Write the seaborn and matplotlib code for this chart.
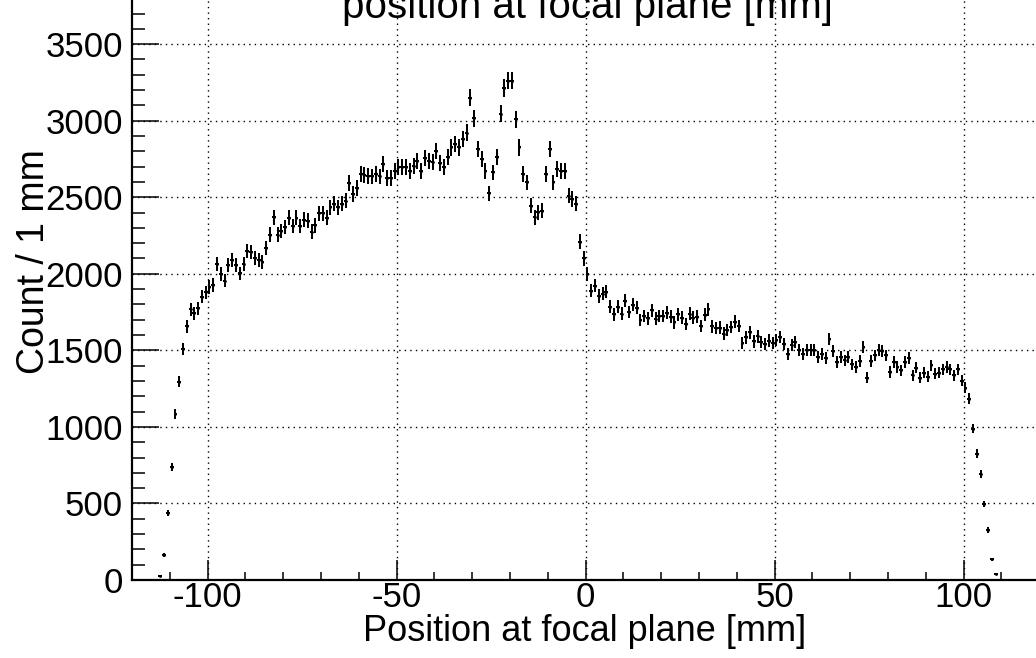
import numpy as np
import pandas as pd
import matplotlib
matplotlib.use("Agg")
import matplotlib.pyplot as plt
from matplotlib.ticker import MultipleLocator
import seaborn as sns

# ---- data (1 mm bins, first bin starts at -113 mm) ----
first_bin_low = -113
bin_width = 1
counts = [
    25, 162, 437, 736, 1082, 1294, 1509, 1656, 1768, 1742,
    1775, 1851, 1879, 1913, 1926, 2063, 1998, 1955, 2060, 2089,
    2060, 2002, 2063, 2149, 2143, 2104, 2089, 2078, 2168, 2255,
    2370, 2255, 2280, 2305, 2367, 2312, 2366, 2312, 2353, 2348,
    2275, 2316, 2394, 2394, 2366, 2435, 2457, 2435, 2457, 2478,
    2593, 2522, 2561, 2652, 2647, 2641, 2636, 2652, 2636, 2716,
    2626, 2626, 2674, 2695, 2695, 2695, 2674, 2702, 2734, 2669,
    2755, 2736, 2730, 2804, 2721, 2695, 2760, 2825, 2846, 2825,
    2879, 2922, 3149, 3015, 2814, 2749, 2673, 2526, 2662, 2760,
    3045, 3214, 3262, 3262, 3009, 2825, 2651, 2597, 2446, 2370,
    2403, 2413, 2651, 2814, 2597, 2684, 2669, 2673, 2511, 2489,
    2457, 2210, 2100, 2000, 1890, 1922, 1855, 1870, 1883, 1784,
    1736, 1784, 1740, 1823, 1751, 1797, 1779, 1697, 1725, 1710,
    1762, 1708, 1725, 1725, 1747, 1719, 1682, 1736, 1714, 1671,
    1740, 1714, 1719, 1660, 1732, 1768, 1656, 1645, 1649, 1610,
    1632, 1654, 1688, 1660, 1545, 1584, 1617, 1558, 1591, 1553,
    1539, 1564, 1548, 1565, 1587, 1543, 1478, 1533, 1554, 1504,
    1478, 1500, 1504, 1504, 1457, 1474, 1452, 1576, 1496, 1424,
    1457, 1435, 1457, 1409, 1391, 1430, 1522, 1322, 1430, 1467,
    1500, 1496, 1467, 1359, 1424, 1391, 1370, 1424, 1452, 1337,
    1387, 1322, 1355, 1328, 1402, 1348, 1355, 1376, 1391, 1376,
    1337, 1376, 1300, 1257, 1185, 989, 826, 691, 496, 326,
    135, 40,
]
x_ticks = [-100, -50, 0, 50, 100]
y_ticks = [0, 500, 1000, 1500, 2000, 2500, 3000, 3500]
title_text = "position at focal plane [mm]"
x_label = "Position at focal plane [mm]"
y_label = "Count / 1 mm"

centers = first_bin_low + bin_width * (np.arange(len(counts)) + 0.5)
df = pd.DataFrame({"x": centers, "count": counts})
df["err"] = np.sqrt(df["count"])

# ---- style ----
sns.set_theme(style="white")
plt.rcParams["font.family"] = ["Liberation Sans", "DejaVu Sans"]

W, H = 1036, 658
fig = plt.figure(figsize=(W / 100, H / 100), dpi=100)
fig.patch.set_facecolor("white")

x0_px, y0_px = 132, 580
xlim = (-120, 120)
ylim = (0, 3800)
px_per_x = 3.78
px_per_y = 0.1531
ax_w = (xlim[1] - xlim[0]) * px_per_x
ax_h = (ylim[1] - ylim[0]) * px_per_y
ax = fig.add_axes([x0_px / W, (H - y0_px) / H, ax_w / W, ax_h / H])
ax.set_facecolor("white")

ax.errorbar(df["x"], df["count"], yerr=df["err"], xerr=0.5 * bin_width,
            fmt="none", ecolor="black", elinewidth=1.45, capsize=0, zorder=3)
sns.scatterplot(data=df, x="x", y="count", ax=ax, s=4, color="black",
                marker="o", edgecolor="black", linewidth=0, zorder=4, legend=False)

ax.set_xlim(*xlim)
ax.set_ylim(*ylim)
ax.set_xticks(x_ticks)
ax.set_yticks(y_ticks)
ax.set_xticklabels([str(v) for v in x_ticks])
ax.set_yticklabels([str(v) for v in y_ticks])
ax.xaxis.set_minor_locator(MultipleLocator(10))
ax.yaxis.set_minor_locator(MultipleLocator(100))

ax.grid(True, which="major", color="black", linestyle=(0, (1, 3)), linewidth=1.0)
ax.set_axisbelow(True)

for s in ["top", "right"]:
    ax.spines[s].set_visible(False)
for s in ["left", "bottom"]:
    ax.spines[s].set_visible(True)
    ax.spines[s].set_color("black")
    ax.spines[s].set_linewidth(1.6)

ax.tick_params(axis="both", which="both", direction="in", colors="black",
               labelsize=25, width=1.1)
ax.tick_params(axis="x", which="major", length=14.4, pad=0.5)
ax.tick_params(axis="x", which="minor", length=5.5)
ax.tick_params(axis="y", which="major", length=19.4, pad=6.5)
ax.tick_params(axis="y", which="minor", length=9.4)
ax.tick_params(top=False, right=False, which="both")
ax.xaxis.set_ticks_position("bottom")
ax.yaxis.set_ticks_position("left")

ax.set_xlabel(x_label, fontsize=26, color="black")
ax.xaxis.set_label_coords(585 / W, 1 - 614 / H, transform=fig.transFigure)
ax.set_ylabel("")
fig.text(34 / W, 1 - 262 / H, y_label, rotation=90, ha="center", va="center",
         fontsize=27, color="black")
fig.text(587 / W, 1 - 18.5 / H, title_text, ha="center", va="baseline",
         fontsize=29, color="black")

fig.savefig("out.png", dpi=100, facecolor="white")
